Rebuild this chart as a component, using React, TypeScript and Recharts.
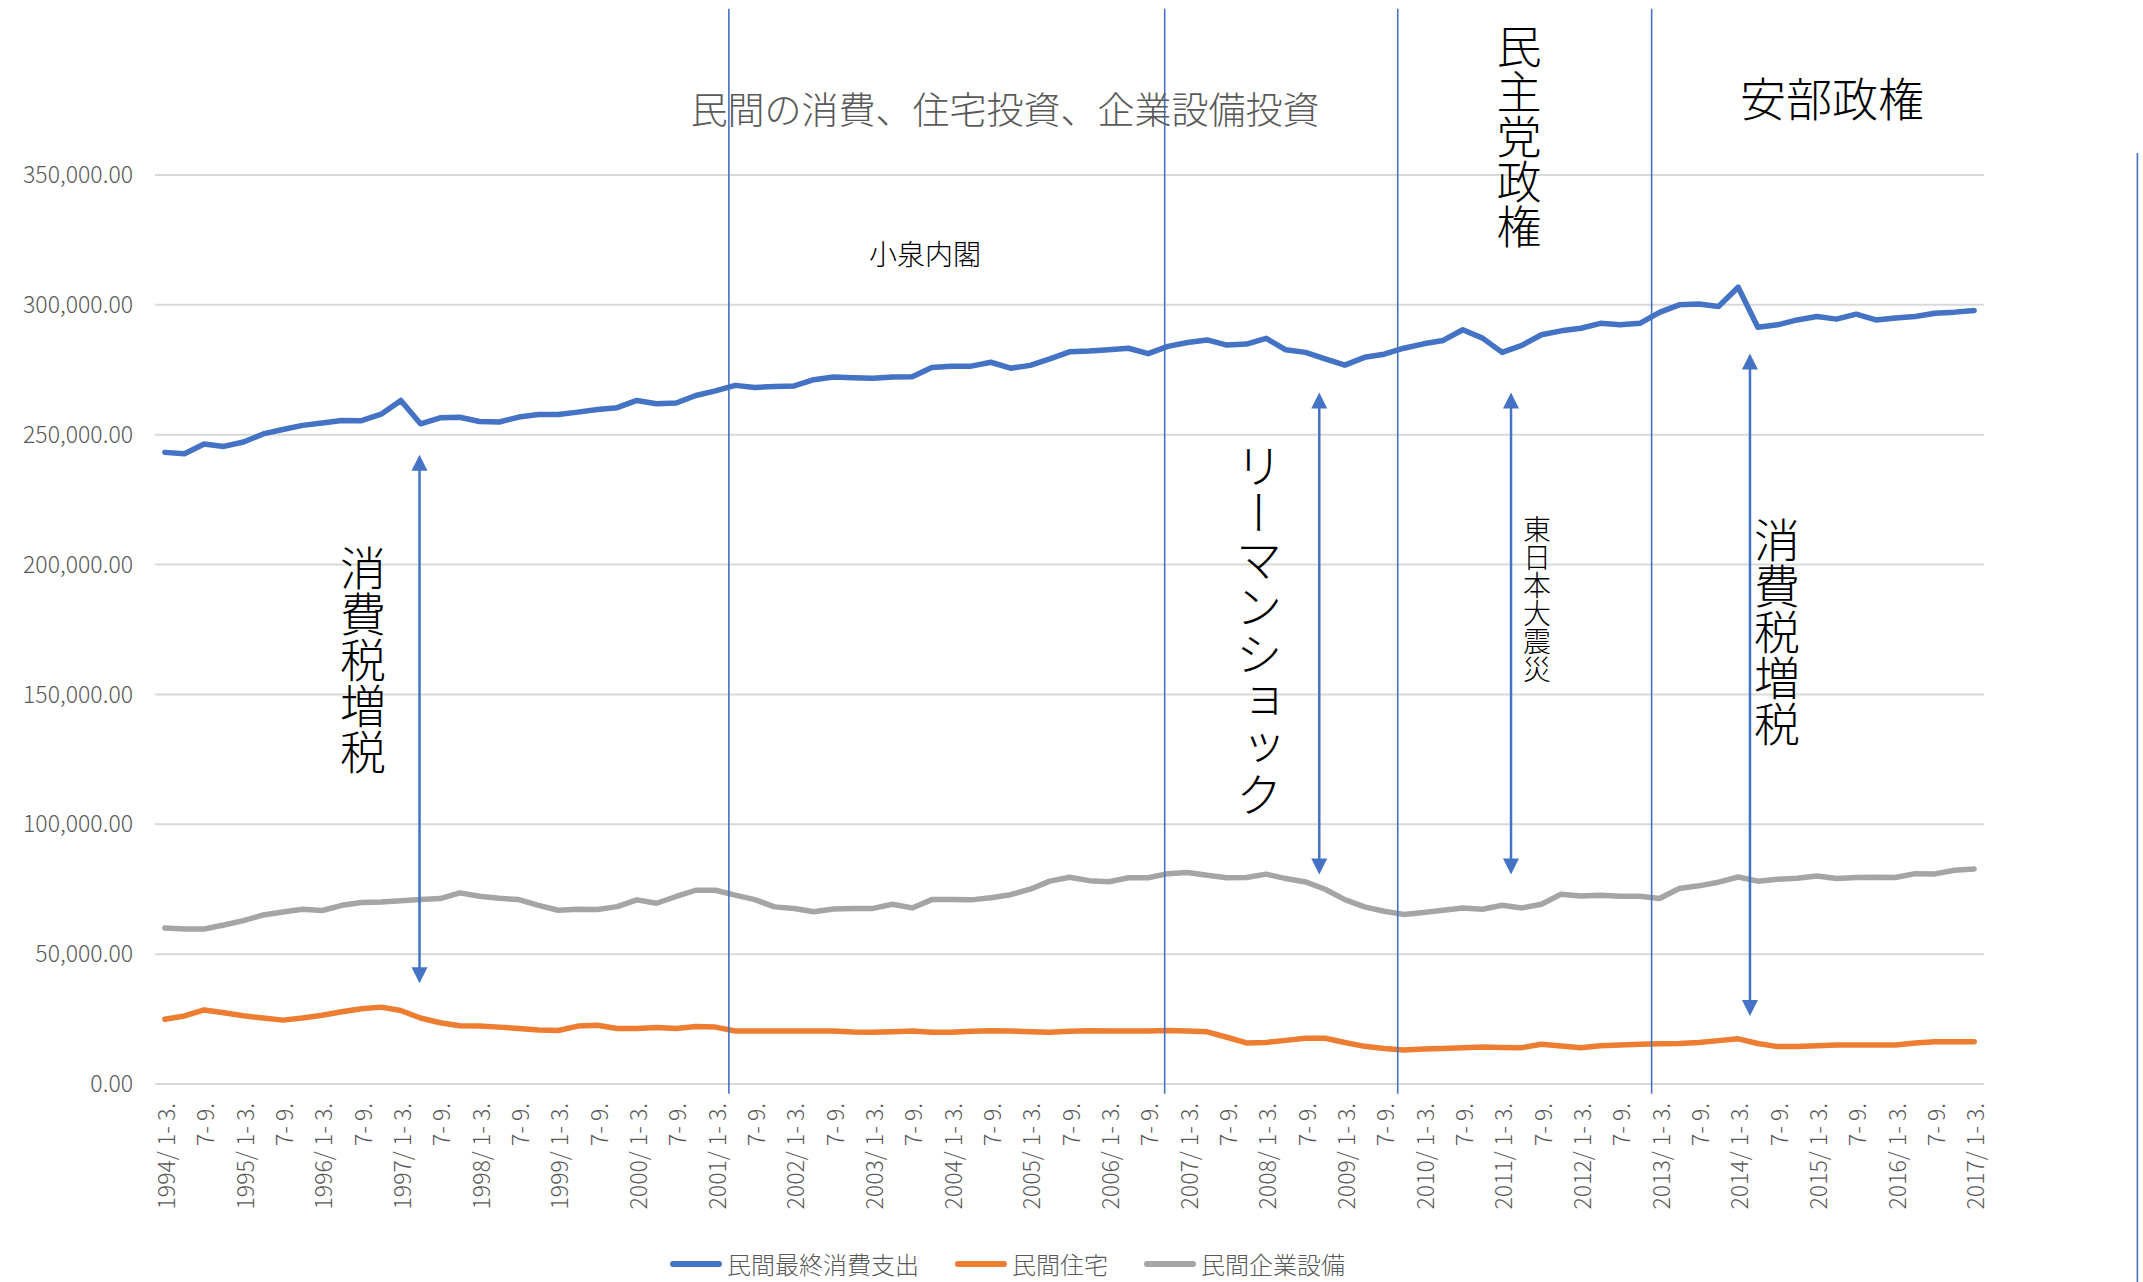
import React from "react";
import { CartesianGrid, Line, LineChart, ReferenceLine, XAxis, YAxis } from "recharts";

const FONT = "'Noto Sans CJK JP', 'Noto Sans', sans-serif";
const BLUE = "#4472C4";
const ORANGE = "#ED7D31";
const GRAY = "#A5A5A5";
const TEXT = "#595959";

// quarterly, 1994 Q1 .. 2017 Q1
const years = Array.from({ length: 24 }, (_, k) => 1994 + k);
const quarterNames = ["1- 3.", "4- 6.", "7- 9.", "10-12."];
const quarterLabels: string[] = [];
years.forEach((yr) =>
  quarterNames.forEach((q, qi) => {
    if (quarterLabels.length < 93) quarterLabels.push(qi === 0 ? `${yr}/ ${q}` : q);
  })
);
const xTicks = quarterLabels.map((_, i) => i).filter((i) => i % 2 === 0);
const yTicks = [0, 50000, 100000, 150000, 200000, 250000, 300000, 350000];

// 民間最終消費支出
const consumption = [
  243200, 242700, 246400, 245500, 247200, 250300, 252000, 253600, 254500, 255500, 255400, 257900, 263200, 254200, 256500, 256700,
  255100, 254900, 256800, 257800, 257800, 258700, 259700, 260400, 263200, 261900, 262200, 265100, 266900, 269000, 268200,
  268600, 268800, 271200, 272200, 271900, 271700, 272200, 272300, 275900, 276400, 276400, 277900, 275600, 276700, 279200, 281900,
  282200, 282700, 283300, 281200, 284000, 285500, 286500, 284500, 284900, 287100, 282700, 281700, 279200, 276800, 279800,
  281000, 283300, 285000, 286300, 290400, 287200, 281700, 284400, 288500, 290000, 291000, 292900, 292300, 292900, 297100, 300000,
  300300, 299400, 306800, 291400, 292300, 294200, 295500, 294500, 296400, 294200, 294900, 295500, 296800, 297200, 297800,
];
// 民間住宅
const housing = [
  24900, 26200, 28500, 27400, 26300, 25400, 24600, 25400, 26500, 27800, 29000, 29600, 28300, 25400, 23600, 22400,
  22300, 21900, 21400, 20800, 20600, 22300, 22600, 21400, 21400, 21800, 21400, 22100, 21900, 20400, 20400,
  20400, 20400, 20400, 20400, 20000, 19900, 20100, 20400, 19900, 19900, 20300, 20500, 20400, 20100, 19900, 20300,
  20500, 20400, 20400, 20400, 20600, 20400, 20100, 18000, 15800, 16000, 16800, 17600, 17600, 16000, 14500,
  13700, 13100, 13500, 13700, 14000, 14200, 14100, 14000, 15300, 14600, 14000, 14700, 15000, 15300, 15500, 15600,
  16000, 16700, 17400, 15600, 14400, 14400, 14700, 15000, 15000, 15000, 15000, 15800, 16300, 16300, 16300,
];
// 民間企業設備
const capex = [
  60100, 59700, 59700, 61200, 62900, 65100, 66200, 67300, 66800, 68800, 69900, 70100, 70600, 71000, 71400, 73600,
  72300, 71500, 71000, 68800, 66900, 67300, 67200, 68300, 70900, 69600, 72200, 74600, 74600, 72700, 71000,
  68200, 67600, 66300, 67400, 67600, 67600, 69200, 67800, 71000, 71000, 70900, 71700, 72900, 75000, 78100, 79600,
  78300, 77900, 79400, 79400, 81000, 81400, 80400, 79400, 79500, 80800, 79100, 77800, 75000, 71000, 68200,
  66500, 65300, 66000, 66900, 67800, 67300, 68800, 67800, 69200, 73100, 72400, 72700, 72300, 72300, 71400, 75300,
  76300, 77700, 79700, 78100, 78800, 79200, 80100, 79100, 79500, 79600, 79500, 81000, 80900, 82300, 82800,
];

// era dividers (quarter index position), drawn as thin blue lines
const dividers = [28.68, 50.84, 62.69, 75.6];
// double arrows: [quarter index, top value, bottom value]
const arrows: [number, number, number][] = [
  [12.95, 242300, 38800],
  [58.7, 266300, 80700],
  [68.45, 266300, 80700],
  [80.6, 281300, 26200],
];

const data = quarterLabels.map((label, i) => ({
  idx: i,
  label,
  consumption: consumption[i],
  housing: housing[i],
  capex: capex[i],
}));

const QuarterTick = ({ x, y, payload }: any) => (
  <text
    transform={`translate(${x},${y}) rotate(-90)`}
    textAnchor="end"
    dominantBaseline="central"
    fontSize={23}
    fontWeight={300}
    fill={TEXT}
    fontFamily={FONT}
  >
    {quarterLabels[payload.value]}
  </text>
);

const DoubleArrow = (props: any) => {
  const { x1, y1, y2 } = props;
  const top = Math.min(y1, y2);
  const bottom = Math.max(y1, y2);
  const hw = 8;
  const hl = 16;
  return (
    <g>
      <line x1={x1} y1={top + hl - 1} x2={x1} y2={bottom - hl + 1} stroke={BLUE} strokeWidth={2.5} />
      <path d={`M${x1},${top} L${x1 - hw},${top + hl} L${x1 + hw},${top + hl} Z`} fill={BLUE} />
      <path d={`M${x1},${bottom} L${x1 - hw},${bottom - hl} L${x1 + hw},${bottom - hl} Z`} fill={BLUE} />
    </g>
  );
};

const vText = (text: string, cx: number, top: number, size: number) => (
  <div
    style={{
      position: "absolute",
      left: cx - size / 2,
      top,
      writingMode: "vertical-rl",
      fontSize: size,
      fontWeight: 300,
      lineHeight: 1,
      color: "#000",
      fontFamily: FONT,
      whiteSpace: "nowrap",
    }}
  >
    {text}
  </div>
);

const legendItems = [
  { name: "民間最終消費支出", color: BLUE },
  { name: "民間住宅", color: ORANGE },
  { name: "民間企業設備", color: GRAY },
];

export default function App() {
  return (
    <div
      style={{
        position: "absolute",
        left: 0,
        top: 0,
        width: 2143,
        height: 1282,
        background: "#fff",
        fontFamily: FONT,
        overflow: "hidden",
      }}
    >
      <LineChart width={2143} height={1282} data={data} margin={{ top: 175, right: 159, bottom: 0, left: 0 }}>
        <CartesianGrid vertical={false} stroke="#d9d9d9" strokeWidth={2} />
        <XAxis
          dataKey="idx"
          type="number"
          domain={[-0.5, 92.5]}
          ticks={xTicks}
          interval={0}
          tick={<QuarterTick />}
          tickLine={false}
          axisLine={false}
          tickSize={0}
          tickMargin={19}
          height={198}
        />
        <YAxis
          domain={[0, 350000]}
          ticks={yTicks}
          width={155}
          tickLine={false}
          axisLine={false}
          tickSize={0}
          tickMargin={22}
          tick={{ fill: TEXT, fontSize: 23, fontWeight: 300, fontFamily: FONT }}
          tickFormatter={(v: number) => v.toLocaleString("en-US", { minimumFractionDigits: 2, maximumFractionDigits: 2 })}
        />
        <Line dataKey="consumption" stroke={BLUE} strokeWidth={5.5} dot={false} strokeLinecap="round" strokeLinejoin="round" isAnimationActive={false} />
        <Line dataKey="housing" stroke={ORANGE} strokeWidth={5.5} dot={false} strokeLinecap="round" strokeLinejoin="round" isAnimationActive={false} />
        <Line dataKey="capex" stroke={GRAY} strokeWidth={5.5} dot={false} strokeLinecap="round" strokeLinejoin="round" isAnimationActive={false} />
        {dividers.map((x) => (
          <ReferenceLine
            key={x}
            segment={[{ x, y: 414000 }, { x, y: -3800 }]}
            stroke={BLUE}
            strokeWidth={1.6}
            ifOverflow="visible"
          />
        ))}
        <ReferenceLine
          segment={[{ x: 100.3, y: 358500 }, { x: 100.3, y: -80000 }]}
          stroke={BLUE}
          strokeWidth={1.6}
          ifOverflow="visible"
        />
        {arrows.map(([x, hi, lo]) => (
          <ReferenceLine
            key={`a${x}`}
            segment={[{ x, y: hi }, { x, y: lo }]}
            ifOverflow="visible"
            shape={DoubleArrow}
          />
        ))}
      </LineChart>

      <div
        style={{
          position: "absolute",
          left: 605,
          width: 800,
          top: 90,
          textAlign: "center",
          fontSize: 37,
          fontWeight: 300,
          lineHeight: 1,
          color: TEXT,
          whiteSpace: "nowrap",
        }}
      >
        民間の消費、住宅投資、企業設備投資
      </div>
      <div style={{ position: "absolute", left: 825, width: 200, top: 239, textAlign: "center", fontSize: 28, fontWeight: 300, lineHeight: 1, color: "#000" }}>
        小泉内閣
      </div>
      <div style={{ position: "absolute", left: 1682, width: 300, top: 73, textAlign: "center", fontSize: 46, fontWeight: 300, lineHeight: 1, color: "#000" }}>
        安部政権
      </div>
      {vText("民主党政権", 1519, 24, 45)}
      {vText("消費税増税", 363, 545, 46)}
      {vText("リーマンショック", 1259, 442, 47)}
      {vText("東日本大震災", 1537, 515, 28)}
      {vText("消費税増税", 1777, 517, 46)}

      <div style={{ position: "absolute", left: 670, top: 1248, height: 32, display: "flex", alignItems: "center" }}>
        {legendItems.map((it) => (
          <div key={it.name} style={{ display: "flex", alignItems: "center", marginRight: 36 }}>
            <div style={{ width: 52, height: 6, borderRadius: 3, background: it.color, marginRight: 5 }} />
            <span style={{ fontSize: 24, fontWeight: 300, color: TEXT, lineHeight: 1, whiteSpace: "nowrap" }}>{it.name}</span>
          </div>
        ))}
      </div>
    </div>
  );
}
